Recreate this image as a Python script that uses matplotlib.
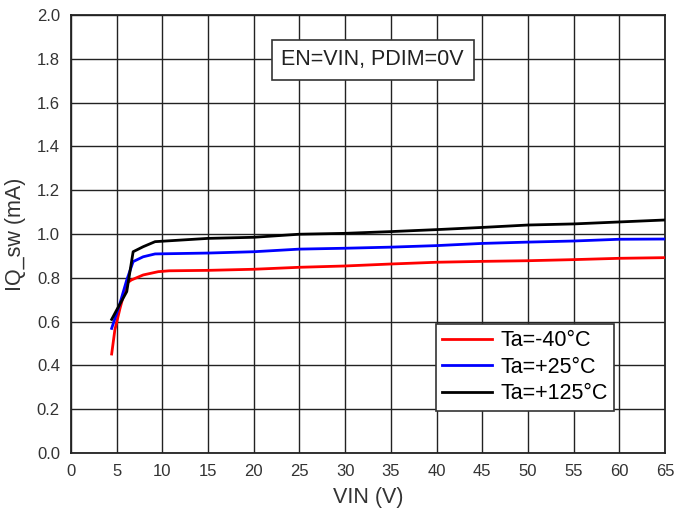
import matplotlib
matplotlib.use("Agg")
import matplotlib.pyplot as plt

plt.rcParams['font.family'] = ['Liberation Sans', 'DejaVu Sans']

vin_m40 = [4.45, 4.8, 5.36, 6.1, 6.6, 7.9, 9.55, 10.75, 15, 20, 25, 30, 35, 40, 45, 50, 55, 60, 65]
iq_m40 = [0.452, 0.562, 0.66, 0.775, 0.79, 0.813, 0.828, 0.832, 0.834, 0.839, 0.848, 0.854, 0.863, 0.871, 0.875, 0.878, 0.883, 0.889, 0.892]

vin_25 = [4.45, 5.36, 6.1, 6.8, 7.9, 9.2, 15, 20, 25, 30, 35, 40, 45, 50, 55, 60, 65]
iq_25 = [0.569, 0.684, 0.79, 0.874, 0.896, 0.909, 0.913, 0.919, 0.931, 0.935, 0.94, 0.947, 0.957, 0.963, 0.968, 0.976, 0.977]

vin_125 = [4.45, 5.0, 6.1, 6.8, 7.9, 9.2, 10.75, 15, 20, 25, 30, 35, 40, 45, 50, 55, 60, 65]
iq_125 = [0.61, 0.653, 0.737, 0.919, 0.942, 0.965, 0.969, 0.98, 0.985, 0.999, 1.003, 1.011, 1.02, 1.03, 1.041, 1.046, 1.055, 1.064]

labels = ['Ta=-40°C', 'Ta=+25°C', 'Ta=+125°C']
colors = ['#ff0000', '#0000ff', '#000000']

x_ticks = list(range(0, 66, 5))
y_ticks = [i * 0.2 for i in range(11)]

fig = plt.figure(figsize=(6.74, 5.12), dpi=100)
ax = fig.add_axes([71/674, 1 - 453/512, 594/674, 438/512])

ax.plot(vin_m40, iq_m40, color=colors[0], lw=2, label=labels[0], zorder=3)
ax.plot(vin_25, iq_25, color=colors[1], lw=2, label=labels[1], zorder=3)
ax.plot(vin_125, iq_125, color=colors[2], lw=2, label=labels[2], zorder=3)

ax.set_xlim(0, 65)
ax.set_ylim(0, 2.0)
ax.set_xticks(x_ticks)
ax.set_yticks(y_ticks)
ax.set_yticklabels([f"{v:.1f}" for v in y_ticks])
ax.grid(True, color='#222222', lw=1.0)
ax.set_axisbelow(True)
for s in ax.spines.values():
    s.set_color('#222222')
    s.set_linewidth(1.3)
ax.tick_params(length=0, labelsize=12, labelcolor='#333333')
ax.tick_params(axis='x', pad=8)
ax.tick_params(axis='y', pad=8)

ax.set_xlabel('VIN (V)', fontsize=15.5, color='#333333', labelpad=6)
ax.set_ylabel('IQ_sw (mA)', fontsize=15.5, color='#333333', labelpad=8)

ax.text(33.0, 1.795, 'EN=VIN, PDIM=0V', fontsize=15.5, color='#222222',
        ha='center', va='center', zorder=5,
        bbox=dict(boxstyle='square,pad=0.45', fc='white', ec='#333333', lw=1.2))

leg = ax.legend(loc='lower right', bbox_to_anchor=(0.9147, 0.0966), fontsize=15.5,
                frameon=True, fancybox=False, framealpha=1, edgecolor='#333333',
                handlelength=2.3, handletextpad=0.4, labelspacing=0.25,
                borderpad=0.3, borderaxespad=0)
leg.get_frame().set_linewidth(1.2)
leg.set_zorder(6)

fig.savefig('out.png', dpi=100)
